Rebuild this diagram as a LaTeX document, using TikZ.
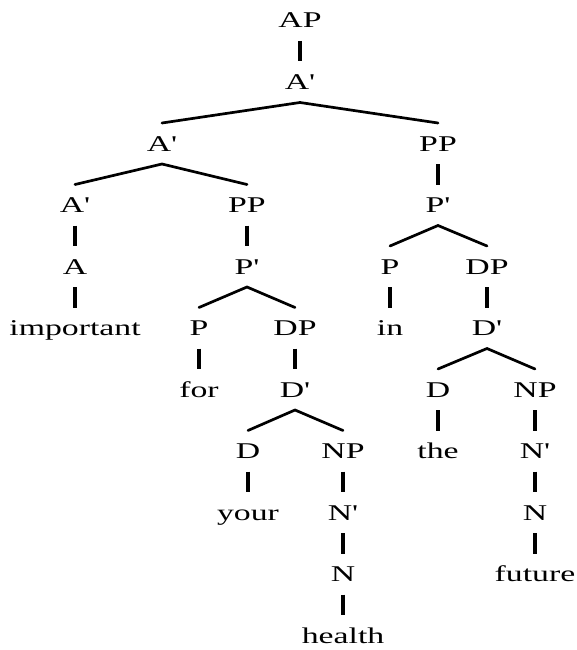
\documentclass[tikz,border=0pt]{standalone}
\usepackage{fontspec}
\newfontfamily\treefont{Liberation Serif}[FakeStretch=1.5]
\usepackage{tikz}
\usetikzlibrary{positioning}
\tikzset{
    %Define style for categories and words
    cat/.style={
           anchor=base,
           inner xsep=0pt,
           inner ysep=0pt,
           outer ysep=13pt,
           text height=15pt,
           text depth=0pt,
           font=\treefont\fontsize{22.5}{24}\selectfont,
           },
    % Define line styles
    unary/.style={line width=3.4pt},
    branch/.style={line width=2.7pt, line cap=round},
}
\begin{document}
\begin{tikzpicture}[x=1pt,y=-1pt]
\useasboundingbox (0,0) rectangle (576,650);

 %nodes
\node[cat] (AP)  at (300,28)    {AP};
\node[cat] (A1)  at (300,89.5)  {A'};
\node[cat] (A2)  at (162,151)   {A'};
\node[cat] (PP1) at (438,151)   {PP};
\node[cat] (A3)  at (75,212.5)  {A'};
\node[cat] (PP2) at (247,212.5) {PP};
\node[cat] (P1)  at (438,212.5) {P'};
\node[cat] (A)   at (75,274)    {A};
\node[cat] (P2)  at (247,274)   {P'};
\node[cat] (Pin) at (390,274)   {P};
\node[cat] (DP2) at (487,274)   {DP};
\node[cat] (important) at (75,335.5) {important};
\node[cat] (Pfor) at (199,335.5) {P};
\node[cat] (DP1)  at (295,335.5) {DP};
\node[cat] (in)   at (390,335.5) {in};
\node[cat] (D2)   at (487,335.5) {D'};
\node[cat] (for)  at (199,397)   {for};
\node[cat] (D1)   at (295,397)   {D'};
\node[cat] (Dthe) at (438,397)   {D};
\node[cat] (NP2)  at (535,397)   {NP};
\node[cat] (Dyour) at (248,458.5) {D};
\node[cat] (NP1)  at (343,458.5) {NP};
\node[cat] (the)  at (438,458.5) {the};
\node[cat] (N2)   at (535,458.5) {N'};
\node[cat] (your) at (248,520)   {your};
\node[cat] (N1)   at (343,520)   {N'};
\node[cat] (Nfut) at (535,520)   {N};
\node[cat] (Nhea) at (343,581.5) {N};
\node[cat] (future) at (535,581.5) {future};
\node[cat] (health) at (343,643) {health};

 %unary lines
\foreach \p/\c in {AP/A1, PP1/P1, A3/A, A/important, PP2/P2, Pfor/for,
    DP1/D1, Dyour/your, NP1/N1, N1/Nhea, Nhea/health, Pin/in, DP2/D2,
    Dthe/the, NP2/N2, N2/Nfut, Nfut/future}
  \draw[unary] (\p.south) -- (\c.north);

 %branching lines
\foreach \p/\l/\r in {A1/A2/PP1, A2/A3/PP2, P2/Pfor/DP1, D1/Dyour/NP1,
    P1/Pin/DP2, D2/Dthe/NP2}
  \draw[branch] (\l.north) -- (\p.south) -- (\r.north);

\end{tikzpicture}
\end{document}
